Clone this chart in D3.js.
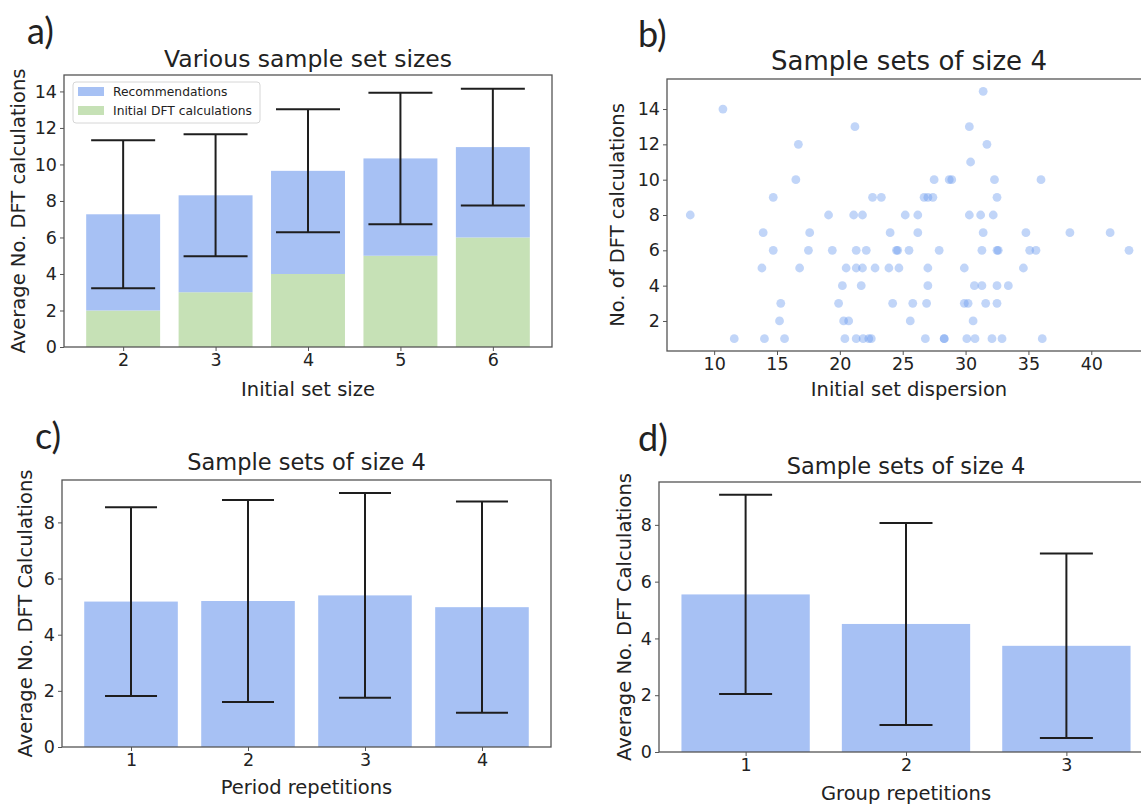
<!DOCTYPE html>
<html>
<head>
<meta charset="utf-8">
<script src="https://cdn.jsdelivr.net/npm/d3@7"></script>
<style>
  body { margin: 0; background: #fff; }
  text { font-family: "DejaVu Sans", sans-serif; fill: #222; }
  .plabel { font-family: Lato, "Open Sans", sans-serif; font-size: 36px; }
</style>
</head>
<body>
<div id="chart"></div>
<script>
// panel a
const setSizes = [2, 3, 4, 5, 6];
const initialCalcs = [2, 3, 4, 5, 6];
const recommendations = [5.27, 5.31, 5.65, 5.33, 4.95];
const errA = [4.05, 3.34, 3.37, 3.60, 3.20];

// panel b
const dispersion = [31.4, 10.7, 21.2, 30.3, 16.7, 31.7, 30.4,
  16.5, 27.5, 28.7, 28.9, 32.3, 36.0,
  14.7, 22.6, 23.3, 26.7, 27.0, 27.4, 32.5,
  8.1, 19.1, 21.1, 21.8, 25.2, 26.2, 30.3, 31.2, 32.2,
  13.9, 17.6, 24.0, 26.2, 31.4, 34.8, 38.3, 41.5,
  14.7, 17.5, 19.4, 21.3, 22.1, 24.5, 24.6, 25.5, 27.9, 31.3, 32.5, 32.6, 35.1, 35.6, 43.0,
  13.8, 16.8, 20.5, 21.3, 21.8, 22.8, 23.9, 24.7, 27.0, 29.9, 34.6,
  20.2, 21.7, 27.0, 30.7, 31.3, 32.5, 33.4,
  15.3, 19.9, 24.2, 25.8, 26.9, 29.9, 30.2, 31.6, 32.5,
  15.2, 20.3, 20.7, 25.6, 30.6,
  11.6, 14.0, 15.6, 20.4, 21.3, 21.85, 22.3, 22.5, 26.8, 28.3, 28.3, 30.1, 30.75, 32.1, 32.9, 36.1];
const dftCounts = [15, 14, 13, 13, 12, 12, 11,
  10, 10, 10, 10, 10, 10,
  9, 9, 9, 9, 9, 9, 9,
  8, 8, 8, 8, 8, 8, 8, 8, 8,
  7, 7, 7, 7, 7, 7, 7, 7,
  6, 6, 6, 6, 6, 6, 6, 6, 6, 6, 6, 6, 6, 6, 6,
  5, 5, 5, 5, 5, 5, 5, 5, 5, 5, 5,
  4, 4, 4, 4, 4, 4, 4,
  3, 3, 3, 3, 3, 3, 3, 3, 3,
  2, 2, 2, 2, 2,
  1, 1, 1, 1, 1, 1, 1, 1, 1, 1, 1, 1, 1, 1, 1, 1];

// panel c
const periodReps = [1, 2, 3, 4];
const periodMeans = [5.18, 5.20, 5.40, 4.98];
const periodErr = [3.36, 3.60, 3.65, 3.76];

// panel d
const groupReps = [1, 2, 3];
const groupMeans = [5.55, 4.51, 3.74];
const groupErr = [3.51, 3.56, 3.25];

const BLUE = "#a7c1f4", GREEN = "#c6e1b6", INK = "#1e1e1e", SPINE = "#555";

const svg = d3.select("#chart").append("svg")
  .attr("width", 1141).attr("height", 804);

function frame(box, x, y, xTicks, yTicks, o) {
  const g = svg.append("g");
  const xa = g.append("g").attr("transform", `translate(0,${box.b})`)
    .call(d3.axisBottom(x).tickValues(xTicks).tickSize(4).tickPadding(3).tickFormat(d3.format("d")));
  const ya = g.append("g").attr("transform", `translate(${box.l},0)`)
    .call(d3.axisLeft(y).tickValues(yTicks).tickSize(4).tickPadding(3).tickFormat(d3.format("d")));
  [xa, ya].forEach(a => {
    a.select(".domain").remove();
    a.selectAll("line").attr("stroke", SPINE);
    a.selectAll("text").style("font-size", o.tick + "px").style("font-family", "DejaVu Sans").attr("fill", "#222");
  });
  g.append("rect").attr("x", box.l).attr("y", box.t)
    .attr("width", box.r - box.l).attr("height", box.b - box.t)
    .attr("fill", "none").attr("stroke", SPINE).attr("stroke-width", 1.3);
  g.append("text").attr("x", (box.l + box.r) / 2).attr("y", o.titleY)
    .attr("text-anchor", "middle").attr("dominant-baseline", "central")
    .style("font-size", o.titleSize + "px").text(o.title);
  g.append("text").attr("x", (box.l + box.r) / 2).attr("y", o.xlabY)
    .attr("text-anchor", "middle").attr("dominant-baseline", "central")
    .style("font-size", "19.5px").text(o.xlab);
  g.append("text").attr("transform", `translate(${o.ylabX},${(box.t + box.b) / 2}) rotate(-90)`)
    .attr("text-anchor", "middle").attr("dominant-baseline", "central")
    .style("font-size", "19.5px").text(o.ylab);
  svg.append("text").attr("class", "plabel").attr("x", o.pl[0]).attr("y", o.pl[1]).text(o.plText);
}

function errorBars(x, y, xs, means, errs, cap) {
  const g = svg.append("g").attr("stroke", INK).attr("stroke-width", 2);
  xs.forEach((v, i) => {
    const cx = x(v), y1 = y(means[i] + errs[i]), y0 = y(means[i] - errs[i]);
    g.append("line").attr("x1", cx).attr("x2", cx).attr("y1", y1).attr("y2", y0);
    g.append("line").attr("x1", cx - cap).attr("x2", cx + cap).attr("y1", y1).attr("y2", y1);
    g.append("line").attr("x1", cx - cap).attr("x2", cx + cap).attr("y1", y0).attr("y2", y0);
  });
}

// ---- a) stacked bars
{
  const box = {l: 64, r: 552, t: 75, b: 347};
  const x = d3.scaleLinear().domain([1.36, 6.64]).range([box.l, box.r]);
  const y = d3.scaleLinear().domain([0, 14.9]).range([box.b, box.t]);
  const w = x(0.8) - x(0);
  svg.append("g").selectAll("rect").data(setSizes).join("rect")
    .attr("x", d => x(d) - w / 2).attr("width", w)
    .attr("y", (d, i) => y(initialCalcs[i])).attr("height", (d, i) => y(0) - y(initialCalcs[i]))
    .attr("fill", GREEN);
  svg.append("g").selectAll("rect").data(setSizes).join("rect")
    .attr("x", d => x(d) - w / 2).attr("width", w)
    .attr("y", (d, i) => y(initialCalcs[i] + recommendations[i]))
    .attr("height", (d, i) => y(initialCalcs[i]) - y(initialCalcs[i] + recommendations[i]))
    .attr("fill", BLUE);
  const totals = setSizes.map((d, i) => initialCalcs[i] + recommendations[i]);
  errorBars(x, y, setSizes, totals, errA, 32);
  frame(box, x, y, setSizes, d3.range(0, 15, 2), {
    tick: 17.5, title: "Various sample set sizes", titleSize: 23.5, titleY: 59,
    xlab: "Initial set size", xlabY: 389, ylab: "Average No. DFT calculations", ylabX: 18,
    pl: [27, 44], plText: "a)"
  });
  // legend
  const lg = svg.append("g");
  lg.append("rect").attr("x", 73).attr("y", 82).attr("width", 187).attr("height", 41)
    .attr("rx", 3).attr("fill", "#fff").attr("fill-opacity", 0.85).attr("stroke", "#d6d6d6");
  [["Recommendations", BLUE], ["Initial DFT calculations", GREEN]].forEach((e, i) => {
    lg.append("rect").attr("x", 78).attr("y", 87 + i * 19).attr("width", 26).attr("height", 9).attr("fill", e[1]);
    lg.append("text").attr("x", 113).attr("y", 91.5 + i * 19).attr("dominant-baseline", "central")
      .style("font-size", "12.3px").text(e[0]);
  });
}

// ---- b) scatter
{
  const box = {l: 667, r: 1151, t: 79, b: 351};
  const x = d3.scaleLinear().domain([6.25, 44.75]).range([box.l, box.r]);
  const y = d3.scaleLinear().domain([0.3, 15.7]).range([box.b, box.t]);
  svg.append("g").selectAll("circle").data(dispersion).join("circle")
    .attr("cx", d => x(d)).attr("cy", (d, i) => y(dftCounts[i])).attr("r", 4.4)
    .attr("fill", "#6495ed").attr("fill-opacity", 0.4);
  frame(box, x, y, d3.range(10, 45, 5), d3.range(2, 15, 2), {
    tick: 17.5, title: "Sample sets of size 4", titleSize: 26, titleY: 61,
    xlab: "Initial set dispersion", xlabY: 389, ylab: "No. of DFT calculations", ylabX: 617,
    pl: [638, 47], plText: "b)"
  });
}

// ---- c) period repetitions
{
  const box = {l: 62, r: 551, t: 480, b: 747};
  const x = d3.scaleLinear().domain([0.41, 4.59]).range([box.l, box.r]);
  const y = d3.scaleLinear().domain([0, 9.51]).range([box.b, box.t]);
  const w = x(0.8) - x(0);
  svg.append("g").selectAll("rect").data(periodReps).join("rect")
    .attr("x", d => x(d) - w / 2).attr("width", w)
    .attr("y", (d, i) => y(periodMeans[i])).attr("height", (d, i) => y(0) - y(periodMeans[i]))
    .attr("fill", BLUE);
  errorBars(x, y, periodReps, periodMeans, periodErr, 26);
  frame(box, x, y, periodReps, d3.range(0, 9, 2), {
    tick: 17.5, title: "Sample sets of size 4", titleSize: 22.5, titleY: 462,
    xlab: "Period repetitions", xlabY: 787, ylab: "Average No. DFT Calculations", ylabX: 25,
    pl: [35, 449], plText: "c)"
  });
}

// ---- d) group repetitions
{
  const box = {l: 659, r: 1153, t: 482, b: 752};
  const x = d3.scaleLinear().domain([0.46, 3.54]).range([box.l, box.r]);
  const y = d3.scaleLinear().domain([0, 9.51]).range([box.b, box.t]);
  const w = x(0.8) - x(0);
  svg.append("g").selectAll("rect").data(groupReps).join("rect")
    .attr("x", d => x(d) - w / 2).attr("width", w)
    .attr("y", (d, i) => y(groupMeans[i])).attr("height", (d, i) => y(0) - y(groupMeans[i]))
    .attr("fill", BLUE);
  errorBars(x, y, groupReps, groupMeans, groupErr, 26.5);
  frame(box, x, y, groupReps, d3.range(0, 9, 2), {
    tick: 17.5, title: "Sample sets of size 4", titleSize: 22.5, titleY: 466,
    xlab: "Group repetitions", xlabY: 793, ylab: "Average No. DFT Calculations", ylabX: 624,
    pl: [638, 451], plText: "d)"
  });
}
</script>
</body>
</html>
